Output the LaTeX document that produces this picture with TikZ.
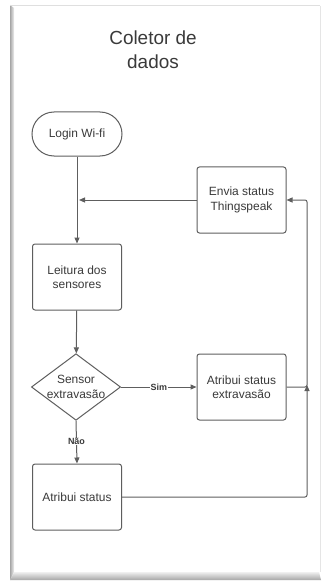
\documentclass[tikz,border=0pt]{standalone}
\usepackage{fontspec}
\setmainfont{Liberation Sans}
\usetikzlibrary{arrows.meta,shapes.geometric}
\definecolor{linegray}{HTML}{5E5E5E}
\definecolor{textgray}{HTML}{3A3A3A}
\begin{document}
\begin{tikzpicture}[x=1bp,y=-1bp,
  every node/.style={text=textgray, font=\fontsize{12}{14.5}\selectfont, align=center, inner sep=0pt},
  procbox/.style={draw=linegray, line width=1bp, rounded corners=2.5bp, minimum width=89bp, minimum height=66bp},
  startbox/.style={draw=linegray, line width=1bp, rounded corners=22bp, minimum width=90bp, minimum height=44bp},
  decbox/.style={draw=linegray, line width=1bp, diamond, aspect=1.34, minimum width=86bp, minimum height=64bp},
  flow/.style={draw=linegray, line width=1bp, -{Triangle[length=6bp,width=5bp]}},
  plainflow/.style={draw=linegray, line width=1bp, rounded corners=2bp},
  lbl/.style={font=\fontsize{9}{10}\selectfont\bfseries, fill=white, inner sep=0.5bp}
]
\useasboundingbox (0,0) rectangle (322,582);
% page with bevelled shadow
\fill[white] (0,0) rectangle (322,582);
\fill[white] (10,5) rectangle (320,578);
\shade[left color=gray!70, right color=gray!12] (10,5) -- (14,8) -- (14,572) -- (10,580) -- cycle;
\shade[top color=gray!12, bottom color=gray!70] (10,580) -- (14,572) -- (319,572) -- (321,580) -- cycle;
\draw[gray!25, line width=1bp] (10,5.5) -- (320,5.5);
\draw[gray!20, line width=1bp] (320,6) -- (320,572);

% title
\node[font=\fontsize{19}{24}\selectfont] (title) at (153,50) {Coletor de\\dados};

% nodes
\node[startbox] (login) at (77,134) {Login Wi-fi};
\node[procbox] (envia) at (241.5,200) {Envia status\\Thingspeak};
\node[procbox] (leitura) at (77,277) {Leitura dos\\sensores};
\node[decbox] (sensor) at (76,387) {Sensor\\extravas\~ao};
\node[procbox] (extra) at (241.5,387) {Atribui status\\extravas\~ao};
\node[procbox] (atrib) at (77,497) {Atribui status};

% junction points
\coordinate (join) at (login.south |- envia.west);
\coordinate (railtop) at (307,200);
\coordinate (railmid) at (307,387);
\coordinate (railbot) at (307,497);

% connectors
\draw[flow] (login) -- (leitura);
\draw[flow] (envia.west) -- ([xshift=2bp]join);
\draw[flow] (leitura) -- (sensor);
\draw[flow] (sensor.east) -- node[lbl, pos=0.5] (sim) {Sim} (extra.west);
\draw[flow] (sensor.south) -- node[lbl, pos=0.48] (nao) {N\~ao} (atrib.north);
\draw[plainflow, -{Triangle[length=6bp,width=5bp]}] (extra.east) -- (railmid) -- (railtop) -- (envia.east);
\draw[plainflow, -{Triangle[length=6bp,width=5bp]}] (atrib.east) -- (railbot) -- ([yshift=2bp]railmid);
\end{tikzpicture}
\end{document}
